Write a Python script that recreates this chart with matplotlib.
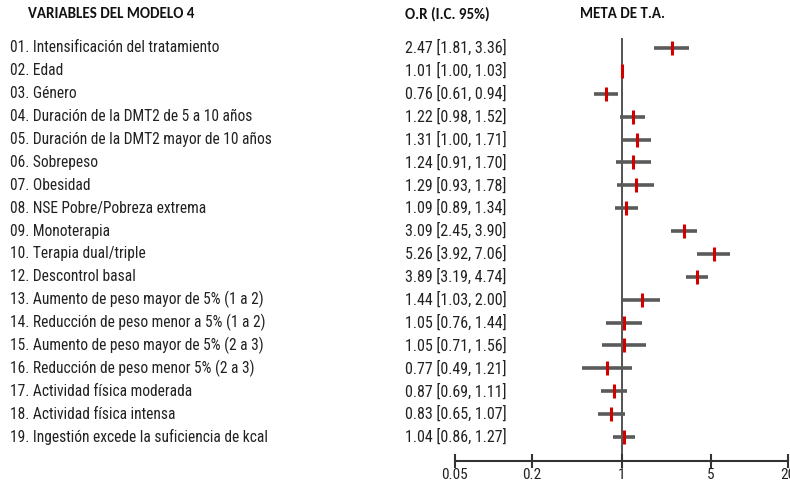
import matplotlib
matplotlib.use("Agg")
import matplotlib.pyplot as plt
from matplotlib import font_manager
from matplotlib.transforms import blended_transform_factory

labels = [
    "01. Intensificación del tratamiento",
    "02. Edad",
    "03. Género",
    "04. Duración de la DMT2 de 5 a 10 años",
    "05. Duración de la DMT2 mayor de 10 años",
    "06. Sobrepeso",
    "07. Obesidad",
    "08. NSE Pobre/Pobreza extrema",
    "09. Monoterapia",
    "10. Terapia dual/triple",
    "12. Descontrol basal",
    "13. Aumento de peso mayor de 5% (1 a 2)",
    "14. Reducción de peso menor a 5% (1 a 2)",
    "15. Aumento de peso mayor de 5% (2 a 3)",
    "16. Reducción de peso menor 5% (2 a 3)",
    "17. Actividad física moderada",
    "18. Actividad física intensa",
    "19. Ingestión excede la suficiencia de kcal",
]
or_vals = [2.47, 1.01, 0.76, 1.22, 1.31, 1.24, 1.29, 1.09, 3.09, 5.26, 3.89,
           1.44, 1.05, 1.05, 0.77, 0.87, 0.83, 1.04]
ci_low = [1.81, 1.00, 0.61, 0.98, 1.00, 0.91, 0.93, 0.89, 2.45, 3.92, 3.19,
          1.03, 0.76, 0.71, 0.49, 0.69, 0.65, 0.86]
ci_high = [3.36, 1.03, 0.94, 1.52, 1.71, 1.70, 1.78, 1.34, 3.90, 7.06, 4.74,
           2.00, 1.44, 1.56, 1.21, 1.11, 1.07, 1.27]
xticks = [0.05, 0.2, 1, 5, 20]
xtick_labels = ["0.05", "0.2", "1", "5", "20"]
header_vars = "VARIABLES DEL MODELO 4"
header_or = "O.R (I.C. 95%)"
header_meta = "META DE T.A."


def pick(cands):
    for c in cands:
        try:
            font_manager.findfont(font_manager.FontProperties(family=c), fallback_to_default=False)
            return c
        except Exception:
            continue
    return "DejaVu Sans"


body_font = pick(["Liberation Sans Narrow", "Arial Narrow", "Roboto Condensed", "Liberation Sans"])
head_font = pick(["Carlito", "Lato", "Open Sans"])

W, H = 790, 484
fig = plt.figure(figsize=(W / 100, H / 100), dpi=100)
fig.patch.set_facecolor("white")

n = len(labels)
row_top_px = 48.0
row_step = (437.0 - 48.0) / (n - 1)
axis_top_px = 38.0
axis_bot_px = 461.0
x_left_px, x_right_px = 455.0, 788.0

ytop = 1 - (row_top_px - axis_top_px) / row_step
ybot = n + (axis_bot_px - (row_top_px + (n - 1) * row_step)) / row_step

ax = fig.add_axes([x_left_px / W, 1 - axis_bot_px / H,
                   (x_right_px - x_left_px) / W, (axis_bot_px - axis_top_px) / H])
ax.set_xscale("log")
ax.set_xlim(0.05, 20)
ax.set_ylim(ybot, ytop)

rows = list(range(1, n + 1))
ax.axvline(1, color="#444444", lw=1.3, zorder=1)
ax.hlines(rows, ci_low, ci_high, color="#5a5a5a", lw=2.6, zorder=2)
ax.scatter(or_vals, rows, marker="|", s=110, color="#d40000", linewidths=2.2, zorder=3)

for s in ["top", "right", "left"]:
    ax.spines[s].set_visible(False)
ax.spines["bottom"].set_color("#333333")
ax.spines["bottom"].set_linewidth(1.5)
ax.set_yticks([])
ax.set_xticks(xticks)
ax.set_xticklabels(xtick_labels)
ax.minorticks_off()
ax.tick_params(axis="x", direction="inout", length=10, width=1.5, color="#333333",
               labelsize=11, pad=0, labelcolor="#222222")
for t in ax.get_xticklabels():
    t.set_fontfamily(body_font)

tr = blended_transform_factory(fig.transFigure, ax.transData)
for i, (lab, o, lo, hi) in enumerate(zip(labels, or_vals, ci_low, ci_high)):
    y = rows[i]
    ax.text(10 / W, y, lab, transform=tr, fontsize=11.2, family=body_font,
            color="#222222", va="center", ha="left", clip_on=False)
    ax.text(405 / W, y, f"{o:.2f} [{lo:.2f}, {hi:.2f}]", transform=tr, fontsize=11.5,
            family=body_font, color="#222222", va="center", ha="left", clip_on=False)

hy = 1 - 14 / H
fig.text(28 / W, hy, header_vars, fontsize=10.8, fontweight="bold", family=head_font,
         color="#111111", va="center", ha="left")
fig.text(405 / W, hy, header_or, fontsize=10.8, fontweight="bold", family=head_font,
         color="#111111", va="center", ha="left")
fig.text(622 / W, hy, header_meta, fontsize=10.8, fontweight="bold", family=head_font,
         color="#111111", va="center", ha="center")

fig.savefig("out.png", dpi=100, facecolor="white")
